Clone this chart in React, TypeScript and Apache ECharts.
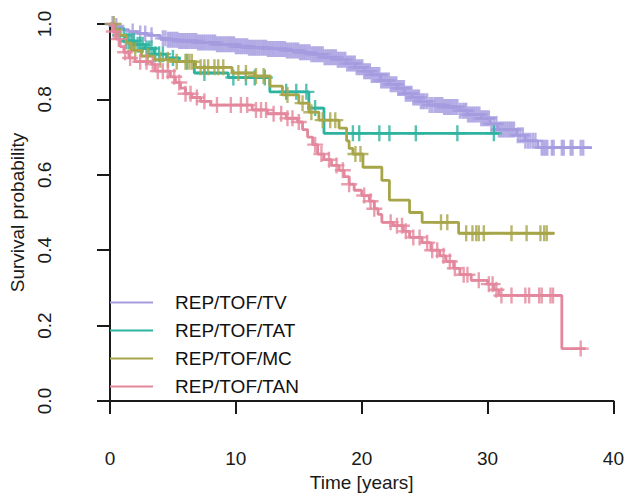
import React, { useEffect, useRef } from "react";
import * as echarts from "echarts";

const FONT = '"Liberation Sans", Arial, Helvetica, sans-serif';

const groupNames = ["REP/TOF/TV", "REP/TOF/TAT", "REP/TOF/MC", "REP/TOF/TAN"];
const groupColors = ["#a59ce0", "#2db39f", "#a7a54a", "#e3879c"];

const xTicks = [0, 10, 20, 30, 40];
const yTicks = [0, 0.2, 0.4, 0.6, 0.8, 1.0];

// Kaplan-Meier step points [time, survival]
const tvSteps: number[][] = [
  [0, 1.0], [0.3, 0.995], [0.6, 0.99], [1.0, 0.985], [1.5, 0.98], [2.2, 0.975], [3.0, 0.97],
  [4.0, 0.962], [4.5, 0.958], [5.5, 0.955], [7, 0.951], [8.5, 0.946], [10, 0.941], [11, 0.937],
  [12.5, 0.934], [14, 0.93], [15, 0.925], [16, 0.92], [17, 0.912], [18, 0.905], [18.8, 0.895],
  [19.5, 0.885], [20.2, 0.875], [20.8, 0.865], [21.5, 0.85], [22.2, 0.84], [22.8, 0.83],
  [23.4, 0.815], [24, 0.805], [24.6, 0.795], [25.3, 0.785], [26.5, 0.78], [27.8, 0.77],
  [28.4, 0.76], [29.5, 0.75], [30.2, 0.735], [30.8, 0.72], [32.3, 0.705], [33, 0.69],
  [34, 0.672], [38.3, 0.672],
];
const tvCensor: number[] = [
  0.2, 0.5, 1.8, 2.4, 2.8, 3.3, 4.2, 4.4, 4.6, 4.75, 4.9, 5.05, 5.2, 5.35, 5.5, 5.65, 5.8,
  5.95, 6.1, 6.25, 6.4, 6.55, 6.7, 6.85, 7.0, 7.15, 7.3, 7.45, 7.6, 7.75, 7.9, 8.05, 8.2,
  8.35, 8.5, 8.65, 8.8, 8.95, 9.1, 9.25, 9.4, 9.55, 9.7, 9.85, 10.0, 10.15, 10.3, 10.45,
  10.6, 10.75, 10.9, 11.05, 11.2, 11.35, 11.5, 11.65, 11.8, 11.95, 12.1, 12.25, 12.4, 12.55,
  12.7, 12.85, 13.0, 13.15, 13.3, 13.45, 13.6, 13.75, 13.9, 14.05, 14.2, 14.35, 14.5, 14.65,
  14.8, 14.95, 15.1, 15.25, 15.4, 15.55, 15.7, 15.85, 16.0, 16.15, 16.3, 16.45, 16.6, 16.75,
  16.9, 17.05, 17.2, 17.35, 17.5, 17.65, 17.8, 17.95, 18.1, 18.25, 18.4, 18.55, 18.7, 18.85,
  19.0, 19.15, 19.3, 19.45, 19.6, 19.75, 19.9, 20.05, 20.2, 20.35, 20.5, 20.65, 20.8, 20.95,
  21.1, 21.25, 21.4, 21.55, 21.7, 21.85, 22.0, 22.15, 22.3, 22.45, 22.6, 22.75, 22.9, 23.05,
  23.2, 23.35, 23.5, 23.65, 23.8, 23.95, 24.1, 24.25, 24.4, 24.55, 24.7, 24.85, 25.0, 25.2,
  25.4, 25.6, 25.8, 25.95, 26.1, 26.25, 26.4, 26.55, 26.7, 26.85, 27.0, 27.15, 27.3, 27.45,
  27.6, 27.8, 28.0, 28.15, 28.3, 28.45, 28.6, 28.75, 28.9, 29.05, 29.2, 29.35, 29.5, 29.65,
  29.8, 29.95, 30.1, 30.3, 30.5, 30.7, 30.9, 31.05, 31.2, 31.35, 31.5, 31.65, 31.8, 31.95,
  32.1, 32.4, 32.6, 32.8, 33.0, 33.2, 33.4, 33.6, 33.8, 34.3, 34.45, 34.6, 34.75, 35.1,
  35.25, 35.9, 36.05, 36.6, 36.75, 37.4, 37.6,
];

const tatSteps: number[][] = [
  [0, 1.0], [0.3, 0.985], [0.7, 0.97], [1.2, 0.955], [2.0, 0.945], [2.8, 0.935], [3.5, 0.92],
  [4.5, 0.91], [5.5, 0.9], [6.7, 0.87], [9.4, 0.858], [12.7, 0.82], [15.8, 0.777],
  [17.0, 0.71], [30.9, 0.71],
];
const tatCensor: number[] = [
  0.8, 1.1, 1.3, 1.5, 1.7, 1.9, 2.2, 2.4, 2.6, 2.9, 3.1, 3.3, 3.6, 3.9, 4.2, 5.0, 6.1, 7.5,
  9.8, 10.8, 11.5, 12.3, 14.0, 14.8, 15.6, 16.3, 19.3, 19.8, 21.4, 22.2, 24.3, 27.6, 30.5,
];

const mcSteps: number[][] = [
  [0, 1.0], [0.4, 0.985], [0.8, 0.97], [1.3, 0.95], [1.7, 0.93], [2.5, 0.915], [3.5, 0.905],
  [5.0, 0.9], [6.8, 0.885], [9.7, 0.87], [11.5, 0.862], [12.7, 0.835], [13.7, 0.812],
  [15.0, 0.79], [15.8, 0.766], [16.6, 0.745], [18.2, 0.724], [18.8, 0.69], [19.0, 0.67],
  [19.3, 0.655], [20.1, 0.62], [21.6, 0.585], [22.2, 0.533], [23.8, 0.5], [24.8, 0.474],
  [27.7, 0.445], [35.3, 0.445],
];
const mcCensor: number[] = [
  0.3, 2.0, 3.0, 4.0, 4.6, 5.3, 6.0, 6.3, 6.5, 7.2, 7.5, 7.8, 8.3, 8.6, 9.0, 10.2, 10.8,
  11.6, 12.2, 14.1, 15.3, 16.0, 16.9, 17.5, 17.9, 19.5, 19.9, 26.3, 26.8, 28.3, 28.8, 29.1,
  29.3, 29.7, 31.9, 33.1, 34.2, 34.5, 34.7,
];

const tanSteps: number[][] = [
  [0, 1.0], [0.2, 0.98], [0.5, 0.96], [0.8, 0.94], [1.1, 0.925], [1.5, 0.91], [2.0, 0.9],
  [3.3, 0.893], [3.6, 0.875], [4.8, 0.86], [5.2, 0.845], [5.6, 0.83], [6.0, 0.815],
  [6.5, 0.805], [7.2, 0.795], [8.0, 0.785], [11.3, 0.772], [12.5, 0.762], [14.0, 0.75],
  [14.9, 0.74], [15.3, 0.72], [15.7, 0.7], [16.1, 0.68], [16.5, 0.655], [17.0, 0.64],
  [17.6, 0.625], [18.2, 0.612], [18.6, 0.595], [19.0, 0.575], [19.4, 0.559], [20.0, 0.545],
  [20.6, 0.53], [21.0, 0.51], [21.3, 0.495], [21.6, 0.474], [22.5, 0.465], [23.3, 0.45],
  [23.8, 0.434], [24.8, 0.42], [25.5, 0.4], [26.2, 0.385], [26.7, 0.37], [27.3, 0.352],
  [27.8, 0.335], [28.7, 0.32], [30.0, 0.31], [30.5, 0.295], [30.9, 0.28], [35.9, 0.139],
  [37.8, 0.139],
];
const tanCensor: number[] = [
  0.3, 0.7, 1.2, 1.6, 2.4, 2.9, 3.4, 3.8, 4.2, 4.6, 5.1, 5.5, 6.0, 6.4, 6.9, 7.5, 8.5, 9.6,
  10.4, 10.9, 11.6, 12.0, 12.4, 13.0, 13.6, 14.1, 14.5, 15.0, 16.3, 16.8, 17.4, 18.0, 18.5,
  19.0, 20.2, 20.7, 21.0, 22.3, 22.8, 23.2, 23.5, 24.1, 24.6, 25.2, 25.6, 26.0, 26.5, 27.0,
  27.4, 28.1, 28.4, 29.3, 30.1, 30.4, 30.7, 31.1, 31.9, 33.0, 33.3, 34.1, 34.3, 35.0, 35.2,
  37.4,
];

const allSteps = [tvSteps, tatSteps, mcSteps, tanSteps];
const allCensor = [tvCensor, tatCensor, mcCensor, tanCensor];

const PLUS = "path://M6.8,0H9.2V6.8H16V9.2H9.2V16H6.8V9.2H0V6.8H6.8Z";

function levelAt(steps: number[][], t: number): number {
  let s = steps[0][1];
  for (const p of steps) {
    if (p[0] <= t) s = p[1];
    else break;
  }
  return s;
}

export default function App() {
  const ref = useRef<HTMLDivElement>(null);

  useEffect(() => {
    document.body.style.margin = "0";
    if (!ref.current) return;
    const chart = echarts.init(ref.current, null, { renderer: "svg" });
    const series: any[] = [];
    groupNames.forEach((name, i) => {
      series.push({
        type: "line",
        name,
        data: allSteps[i],
        step: "end",
        symbol: "none",
        showSymbol: false,
        lineStyle: { width: 2.8, color: groupColors[i] },
        itemStyle: { color: groupColors[i] },
        z: 2 + i,
      });
      series.push({
        type: "scatter",
        name: name + " (censored)",
        data: allCensor[i].map((t) => [t, levelAt(allSteps[i], t)]),
        symbol: PLUS,
        symbolSize: 16,
        itemStyle: { color: groupColors[i] },
        z: 2 + i,
      });
    });

    const axisColor = "#1a1a1a";
    chart.setOption({
      animation: false,
      textStyle: { fontFamily: FONT },
      grid: { left: 110, right: 12, top: 24, bottom: 100, containLabel: false },
      legend: {
        data: groupNames,
        orient: "vertical",
        left: 110,
        top: 293,
        padding: 0,
        itemWidth: 43,
        itemHeight: 2,
        itemGap: 9,
        icon: "rect",
        textStyle: {
          fontFamily: FONT,
          fontSize: 19,
          color: "#111",
          lineHeight: 19,
          padding: [0, 0, 0, 17],
        },
      },
      xAxis: {
        type: "value",
        min: xTicks[0],
        max: xTicks[xTicks.length - 1],
        interval: 10,
        offset: 16,
        splitLine: { show: false },
        axisLine: { show: true, lineStyle: { color: axisColor, width: 2 } },
        axisTick: { show: true, length: 13, lineStyle: { color: axisColor, width: 2 } },
        axisLabel: { fontSize: 19, color: axisColor, margin: 32, fontFamily: FONT },
        name: "Time [years]",
        nameLocation: "middle",
        nameGap: 53,
        nameTextStyle: { fontSize: 19, color: axisColor, fontFamily: FONT },
      },
      yAxis: {
        type: "value",
        min: yTicks[0],
        max: yTicks[yTicks.length - 1],
        interval: 0.2,
        offset: 21,
        splitLine: { show: false },
        axisLine: { show: true, lineStyle: { color: axisColor, width: 2 } },
        axisTick: { show: true, length: 13, lineStyle: { color: axisColor, width: 2 } },
        axisLabel: {
          fontSize: 19,
          color: axisColor,
          rotate: 90,
          margin: 35,
          fontFamily: FONT,
          formatter: (v: number) => v.toFixed(1),
        },
        name: "Survival probability",
        nameLocation: "middle",
        nameRotate: 90,
        nameGap: 58,
        nameTextStyle: { fontSize: 19, color: axisColor, fontFamily: FONT },
      },
      series,
    });
    return () => chart.dispose();
  }, []);

  return <div ref={ref} style={{ width: 627, height: 501 }} />;
}
